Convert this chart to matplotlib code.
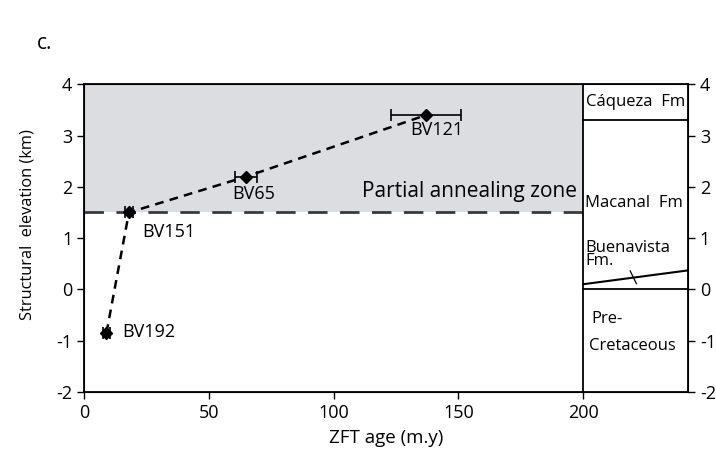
import matplotlib.pyplot as plt
import numpy as np

plt.rcParams['font.family'] = ['Open Sans', 'DejaVu Sans']
plt.rcParams['axes.unicode_minus'] = False

# sample data
samples = ['BV192', 'BV151', 'BV65', 'BV121']
age = [9, 18, 65, 137]
age_err = [1.5, 1.5, 4.5, 14]
elev = [-0.85, 1.5, 2.2, 3.4]

paz_base = 1.5
col_x0, col_x1 = 200, 242

fig = plt.figure(figsize=(7.16, 4.61), dpi=100)
ax = fig.add_axes([0.1173, 0.150, 0.8437, 0.667])

# partial annealing zone
ax.fill_between([0, col_x0], paz_base, 4, color='#dcdde0', lw=0, zorder=0)
ax.plot([0, col_x0], [paz_base, paz_base], color='#3a3a3a', lw=2,
        dashes=(7, 4.5), zorder=1)

# age-elevation path
ax.plot(age, elev, color='black', lw=1.8, dashes=(3.5, 2.5), zorder=2)
ax.errorbar(age, elev, xerr=age_err, fmt='D', color='black', ms=6,
            elinewidth=1.2, capsize=4, capthick=1.2, zorder=3)

ax.text(141.5, 3.1, 'BV121', fontsize=13, ha='center', va='center')
ax.text(68, 1.86, 'BV65', fontsize=13, ha='center', va='center')
ax.text(23.5, 1.12, 'BV151', fontsize=13, ha='left', va='center')
ax.text(15.5, -0.83, 'BV192', fontsize=13, ha='left', va='center')
ax.text(197.5, 1.9, 'Partial annealing zone', fontsize=15, ha='right', va='center')

# stratigraphic column
ax.plot([col_x0, col_x0], [-2, 4], color='black', lw=1.3)
ax.plot([col_x0, col_x1], [3.3, 3.3], color='black', lw=1.3)
ax.plot([col_x0, col_x1], [0, 0], color='black', lw=1.3)
ax.plot([col_x0, col_x1], [0.1, 0.37], color='black', lw=1.5)
ax.plot([218.8, 221.3], [0.36, 0.11], color='black', lw=0.9)
ax.text(221, 3.65, 'Cáqueza  Fm', fontsize=12, ha='center', va='center')
ax.text(200.6, 1.68, 'Macanal  Fm', fontsize=12, ha='left', va='center')
ax.text(200.8, 0.68, 'Buenavista\nFm.', fontsize=12, ha='left', va='center',
        linespacing=0.8)
ax.text(203.3, -0.58, 'Pre-', fontsize=12, ha='left', va='center')
ax.text(202.3, -1.1, 'Cretaceous', fontsize=12, ha='left', va='center')

ax.set_xlim(0, col_x1)
ax.set_ylim(-2, 4)
ax.set_xticks([0, 50, 100, 150, 200])
ax.set_yticks(np.arange(-2, 5, 1))
ax.tick_params(direction='out', length=5, width=1, labelsize=13)
for s in ax.spines.values():
    s.set_linewidth(1.3)

ax2 = ax.twinx()
ax2.set_ylim(-2, 4)
ax2.set_yticks(np.arange(-2, 5, 1))
ax2.tick_params(direction='out', length=5, width=1, labelsize=13)

ax.set_xlabel('ZFT age (m.y)', fontsize=13.5, labelpad=5)
ax.set_ylabel('Structural  elevation (km)', fontsize=11.8)
ax.yaxis.set_label_coords(-0.081, 0.545)

fig.text(0.052, 0.905, 'c.', fontsize=15, ha='left', va='center')

fig.savefig('out.png', dpi=100)
